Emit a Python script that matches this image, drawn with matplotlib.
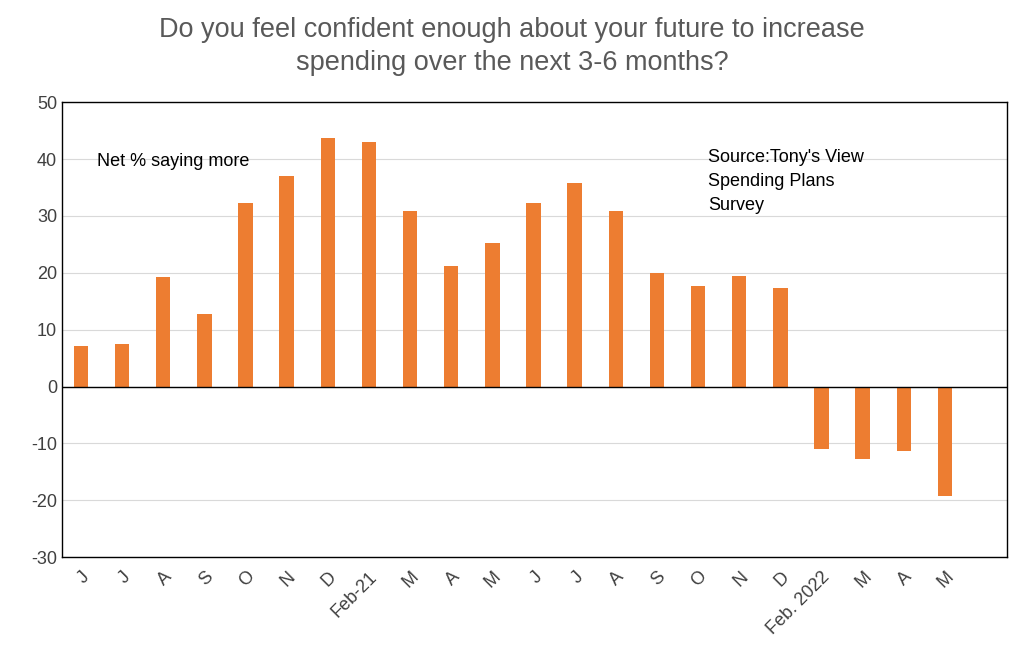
import numpy as np
import matplotlib.pyplot as plt

plt.rcParams['font.family'] = ['Liberation Sans', 'DejaVu Sans']
plt.rcParams['axes.unicode_minus'] = False

labels = ['J', 'J', 'A', 'S', 'O', 'N', 'D', 'Feb-21', 'M', 'A', 'M', 'J', 'J', 'A',
          'S', 'O', 'N', 'D', 'Feb. 2022', 'M', 'A', 'M']
net_more = [7.2, 7.5, 19.3, 12.7, 32.2, 37.0, 43.7, 43.0, 30.8, 21.2, 25.2, 32.2, 35.8,
            30.8, 20.0, 17.7, 19.5, 17.3, -11.0, -12.7, -11.3, -19.2]

fig = plt.figure(figsize=(10.24, 6.68), dpi=100)
ax = fig.add_axes([0.0605, 0.166, 0.9225, 0.681])
x = np.arange(len(labels))
ax.bar(x, net_more, width=0.35, color='#ED7D31', zorder=3)
ax.axhline(0, color='black', lw=1, zorder=4)
ax.set_xlim(-0.46, 22.5)
ax.set_ylim(-30, 50)
ax.set_yticks(range(-30, 51, 10))
ax.yaxis.grid(True, color='#D9D9D9', lw=0.8, zorder=0)
ax.set_xticks(x)
ax.set_xticklabels(labels, rotation=45, ha='right', rotation_mode='anchor',
                   color='#404040', fontsize=13)
ax.tick_params(axis='y', labelsize=13, labelcolor='#404040', length=0)
ax.tick_params(axis='x', length=0, pad=8)
for s in ax.spines.values():
    s.set_color('black')
    s.set_linewidth(1)

ax.text(0.4, 39.6, 'Net % saying more', fontsize=13, va='center')
ax.text(15.25, 41.8, "Source:Tony's View\nSpending Plans\nSurvey", fontsize=13,
        linespacing=1.55, va='top')

fig.suptitle('Do you feel confident enough about your future to increase\n'
             'spending over the next 3-6 months?', y=0.975, fontsize=19.5,
             color='#595959', linespacing=1.35)

fig.savefig('out.png', dpi=100)
